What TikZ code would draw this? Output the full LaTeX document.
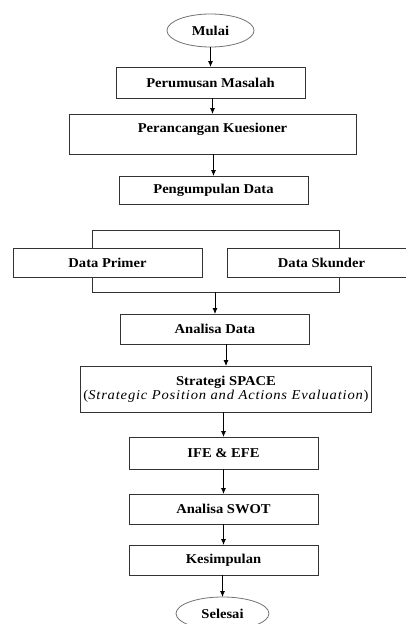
\documentclass[tikz,border=0pt]{standalone}
\usepackage{fontspec}
\setmainfont{Liberation Serif}[FakeStretch=1.08]
\usetikzlibrary{arrows.meta,positioning,shapes.geometric}

\begin{document}
\begin{tikzpicture}[x=1pt,y=-1pt,->,>={Latex[length=6pt,width=5pt]},line width=0.8pt,every node/.style={outer sep=0pt},
    box/.style={rectangle,draw=black!80,fill=white,minimum width=189pt,minimum height=30pt,font=\fontsize{13.5}{14}\selectfont\bfseries},
    term/.style={ellipse,draw=black!55,fill=white,minimum width=87pt,minimum height=33pt,inner sep=0pt,font=\fontsize{13.5}{14}\selectfont\bfseries}]
    \useasboundingbox (0,0) rectangle (406,624);
    \clip (0,0) rectangle (406,624);
    \node[term] (mulai) at (210.5,30.5) {Mulai};
    \node[box,minimum height=31pt] (rumus) [below=20pt of mulai] {Perumusan Masalah};
    \node[box,minimum width=287pt,minimum height=40pt,text height=10pt,text depth=14pt,inner ysep=8pt] (rancang) [below=16pt of rumus,xshift=2pt] {Perancangan Kuesioner};
    \node[box,minimum height=28pt] (kumpul) [below=22pt of rancang,xshift=1pt] {Pengumpulan Data};
    \node[draw=black!80,minimum width=247pt,minimum height=62pt,inner sep=0pt] (sumber) [below=26pt of kumpul,xshift=2pt] {};
    \node[box,minimum height=29pt] (primer) at (107.5,262.5) {Data Primer};
    \node[box,minimum height=29pt] (skunder) at (321.5,262.5) {Data Skunder};
    \node[box] (analisa) [below=22pt of sumber,xshift=-0.5pt] {Analisa Data};
    \node[box,minimum width=290pt,minimum height=46pt,align=center] (space) [below=22pt of analisa,xshift=11pt]
      {Strategi SPACE\\{\mdseries\addfontfeatures{LetterSpace=6}(\textit{Strategic Position and Actions Evaluation})}};
    \node[box,minimum height=32pt] (ife) [below=25pt of space,xshift=-2.5pt] {IFE \& EFE};
    \node[box] (swot) [below=25pt of ife] {Analisa SWOT};
    \node[box] (simpul) [below=21pt of swot] {Kesimpulan};
    \node[term,minimum width=93pt] (selesai) [below=22pt of simpul,xshift=-1pt] {Selesai};

    \foreach \a/\b in {mulai/rumus,rumus/rancang,rancang/kumpul,sumber/analisa,analisa/space,space/ife,ife/swot,swot/simpul,simpul/selesai}
      \draw (\a.south -| \b) -- (\b.north);
  \end{tikzpicture}
\end{document}
